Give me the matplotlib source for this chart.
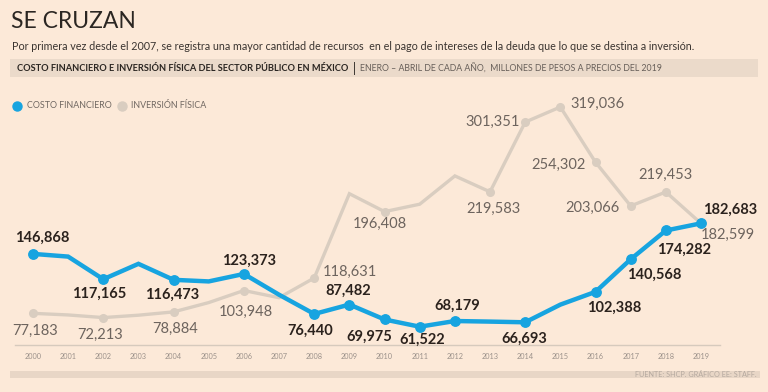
import matplotlib
matplotlib.use("Agg")
import matplotlib.pyplot as plt
from matplotlib.patches import Rectangle

# ---- data ----
years = list(range(2000, 2020))
costo_financiero = [146868, 143700, 117165, 135200, 116473, 114600, 123373, 99000,
                    76440, 87482, 69975, 61522, 68179, 67500, 66693, 87400,
                    102388, 140568, 174282, 182683]
inversion_fisica = [77183, 75300, 72213, 75000, 78884, 89800, 103948, 95500,
                    118631, 217400, 196408, 205100, 238250, 219583, 301351, 319036,
                    254302, 203066, 219453, 182599]
costo_labeled = [2000, 2002, 2004, 2006, 2008, 2009, 2010, 2011, 2012, 2014, 2016, 2017, 2018, 2019]
inversion_labeled = [2000, 2002, 2004, 2006, 2008, 2010, 2013, 2014, 2015, 2016, 2017, 2018, 2019]
tick_labels = [str(y) for y in years]

# label offsets in pixels (dx, dy), styling only
costo_off = {2000: (9, 16), 2002: (-4, -15), 2004: (-1, -15), 2006: (5, 13), 2008: (-4, -17),
             2009: (-1, 14), 2010: (-15, -17), 2011: (2, -13), 2012: (2, 15), 2014: (-1, -17),
             2016: (19, -16), 2017: (24, -16), 2018: (18, -19), 2019: (29, 14)}
inv_off = {2000: (2, -18), 2002: (-3, -17), 2004: (2, -17), 2006: (2, -21), 2008: (36, 6),
           2010: (-5, -12), 2013: (3, -17), 2014: (-33, 0), 2015: (37, 3), 2016: (-37, -3),
           2017: (-38, -2), 2018: (0, 17), 2019: (27, -11)}

BG = "#fce9d8"
BLUE = "#17a4e0"
GRAY = "#d9cdc0"
DARK = "#2b221d"
GTXT = "#6d645e"
FONT = "Lato"

W, H = 768, 392
fig = plt.figure(figsize=(W / 100, H / 100), dpi=100, facecolor=BG)

def fx(px):
    return px / W

def fy(py):
    return 1 - py / H

# header
fig.text(fx(11), fy(22), "SE CRUZAN", fontsize=16.5, fontfamily=FONT,
         color="#2b2622", va="center", ha="left")
fig.text(fx(12), fy(46), "Por primera vez desde el 2007, se registra una mayor cantidad de recursos  en el pago de intereses de la deuda que lo que se destina a inversión.",
         fontsize=7.75, fontfamily=FONT, color="#3a3430", va="center", ha="left")
fig.patches.append(Rectangle((fx(10), fy(77)), fx(748), (77 - 59) / H, transform=fig.transFigure,
                             facecolor="#ebdaca", edgecolor="none", zorder=0))
fig.text(fx(17), fy(68.5), "COSTO FINANCIERO E INVERSIÓN FÍSICA DEL SECTOR PÚBLICO EN MÉXICO",
         fontsize=6.7, fontfamily=FONT, fontweight="bold", color="#2b2622", va="center", ha="left")
fig.text(fx(353), fy(68.5), "|", fontsize=9, fontfamily=FONT, color="#2b2622", va="center", ha="left")
fig.text(fx(360), fy(68.5), "ENERO – ABRIL DE CADA AÑO,  MILLONES DE PESOS A PRECIOS DEL 2019",
         fontsize=6.3, fontfamily=FONT, color="#675f59", va="center", ha="left")

# legend
fig.lines.append(plt.Line2D([fx(17)], [fy(106)], marker="o", markersize=6.5, color=BLUE,
                            transform=fig.transFigure))
fig.text(fx(27), fy(106), "COSTO FINANCIERO", fontsize=6.4, fontfamily=FONT,
         color="#716862", va="center", ha="left")
fig.lines.append(plt.Line2D([fx(122)], [fy(106)], marker="o", markersize=6.5, color=GRAY,
                            transform=fig.transFigure))
fig.text(fx(131), fy(106), "INVERSIÓN FÍSICA", fontsize=6.4, fontfamily=FONT,
         color="#716862", va="center", ha="left")

# bottom band
fig.patches.append(Rectangle((fx(10), fy(378)), fx(750), 7.5 / H, transform=fig.transFigure,
                             facecolor="#e8d6c6", edgecolor="none", zorder=0))
fig.text(fx(757), fy(374.5), "FUENTE: SHCP. GRÁFICO EE: STAFF.", fontsize=5.2, fontfamily=FONT,
         color="#b5a99f", va="center", ha="right")

# axes
ax = fig.add_axes([fx(15), fy(345), fx(720 - 15), (345 - 95) / H])
ax.set_facecolor("none")
ax.set_xlim(1999.49, 2019.54)
ax.set_ylim(40074, 333100)
for s in ["top", "right", "left"]:
    ax.spines[s].set_visible(False)
ax.spines["bottom"].set_color("#d6cabd")
ax.spines["bottom"].set_linewidth(1)
ax.set_yticks([])
ax.set_xticks(years)
ax.set_xticklabels(tick_labels, fontsize=5.3, fontfamily=FONT, color="#9b918a")
ax.tick_params(axis="x", length=0, pad=6)

ax.plot(years, inversion_fisica, color=GRAY, lw=2.4, zorder=2, solid_joinstyle="miter")
ax.plot(inversion_labeled, [inversion_fisica[years.index(y)] for y in inversion_labeled],
        "o", color=GRAY, ms=5.5, zorder=2)
ax.plot(years, costo_financiero, color=BLUE, lw=3.2, zorder=3, solid_joinstyle="miter")
ax.plot(costo_labeled, [costo_financiero[years.index(y)] for y in costo_labeled],
        "o", color=BLUE, ms=6.8, zorder=3)

for y in inversion_labeled:
    v = inversion_fisica[years.index(y)]
    ax.annotate(f"{v:,}", (y, v), xytext=inv_off[y], textcoords="offset pixels",
                ha="center", va="center", fontsize=10.5, fontfamily=FONT, color=GTXT, zorder=4)
for y in costo_labeled:
    v = costo_financiero[years.index(y)]
    ax.annotate(f"{v:,}", (y, v), xytext=costo_off[y], textcoords="offset pixels",
                ha="center", va="center", fontsize=10.5, fontfamily=FONT, fontweight="bold",
                color=DARK, zorder=5)

fig.savefig("out.png", dpi=100, facecolor=BG)
